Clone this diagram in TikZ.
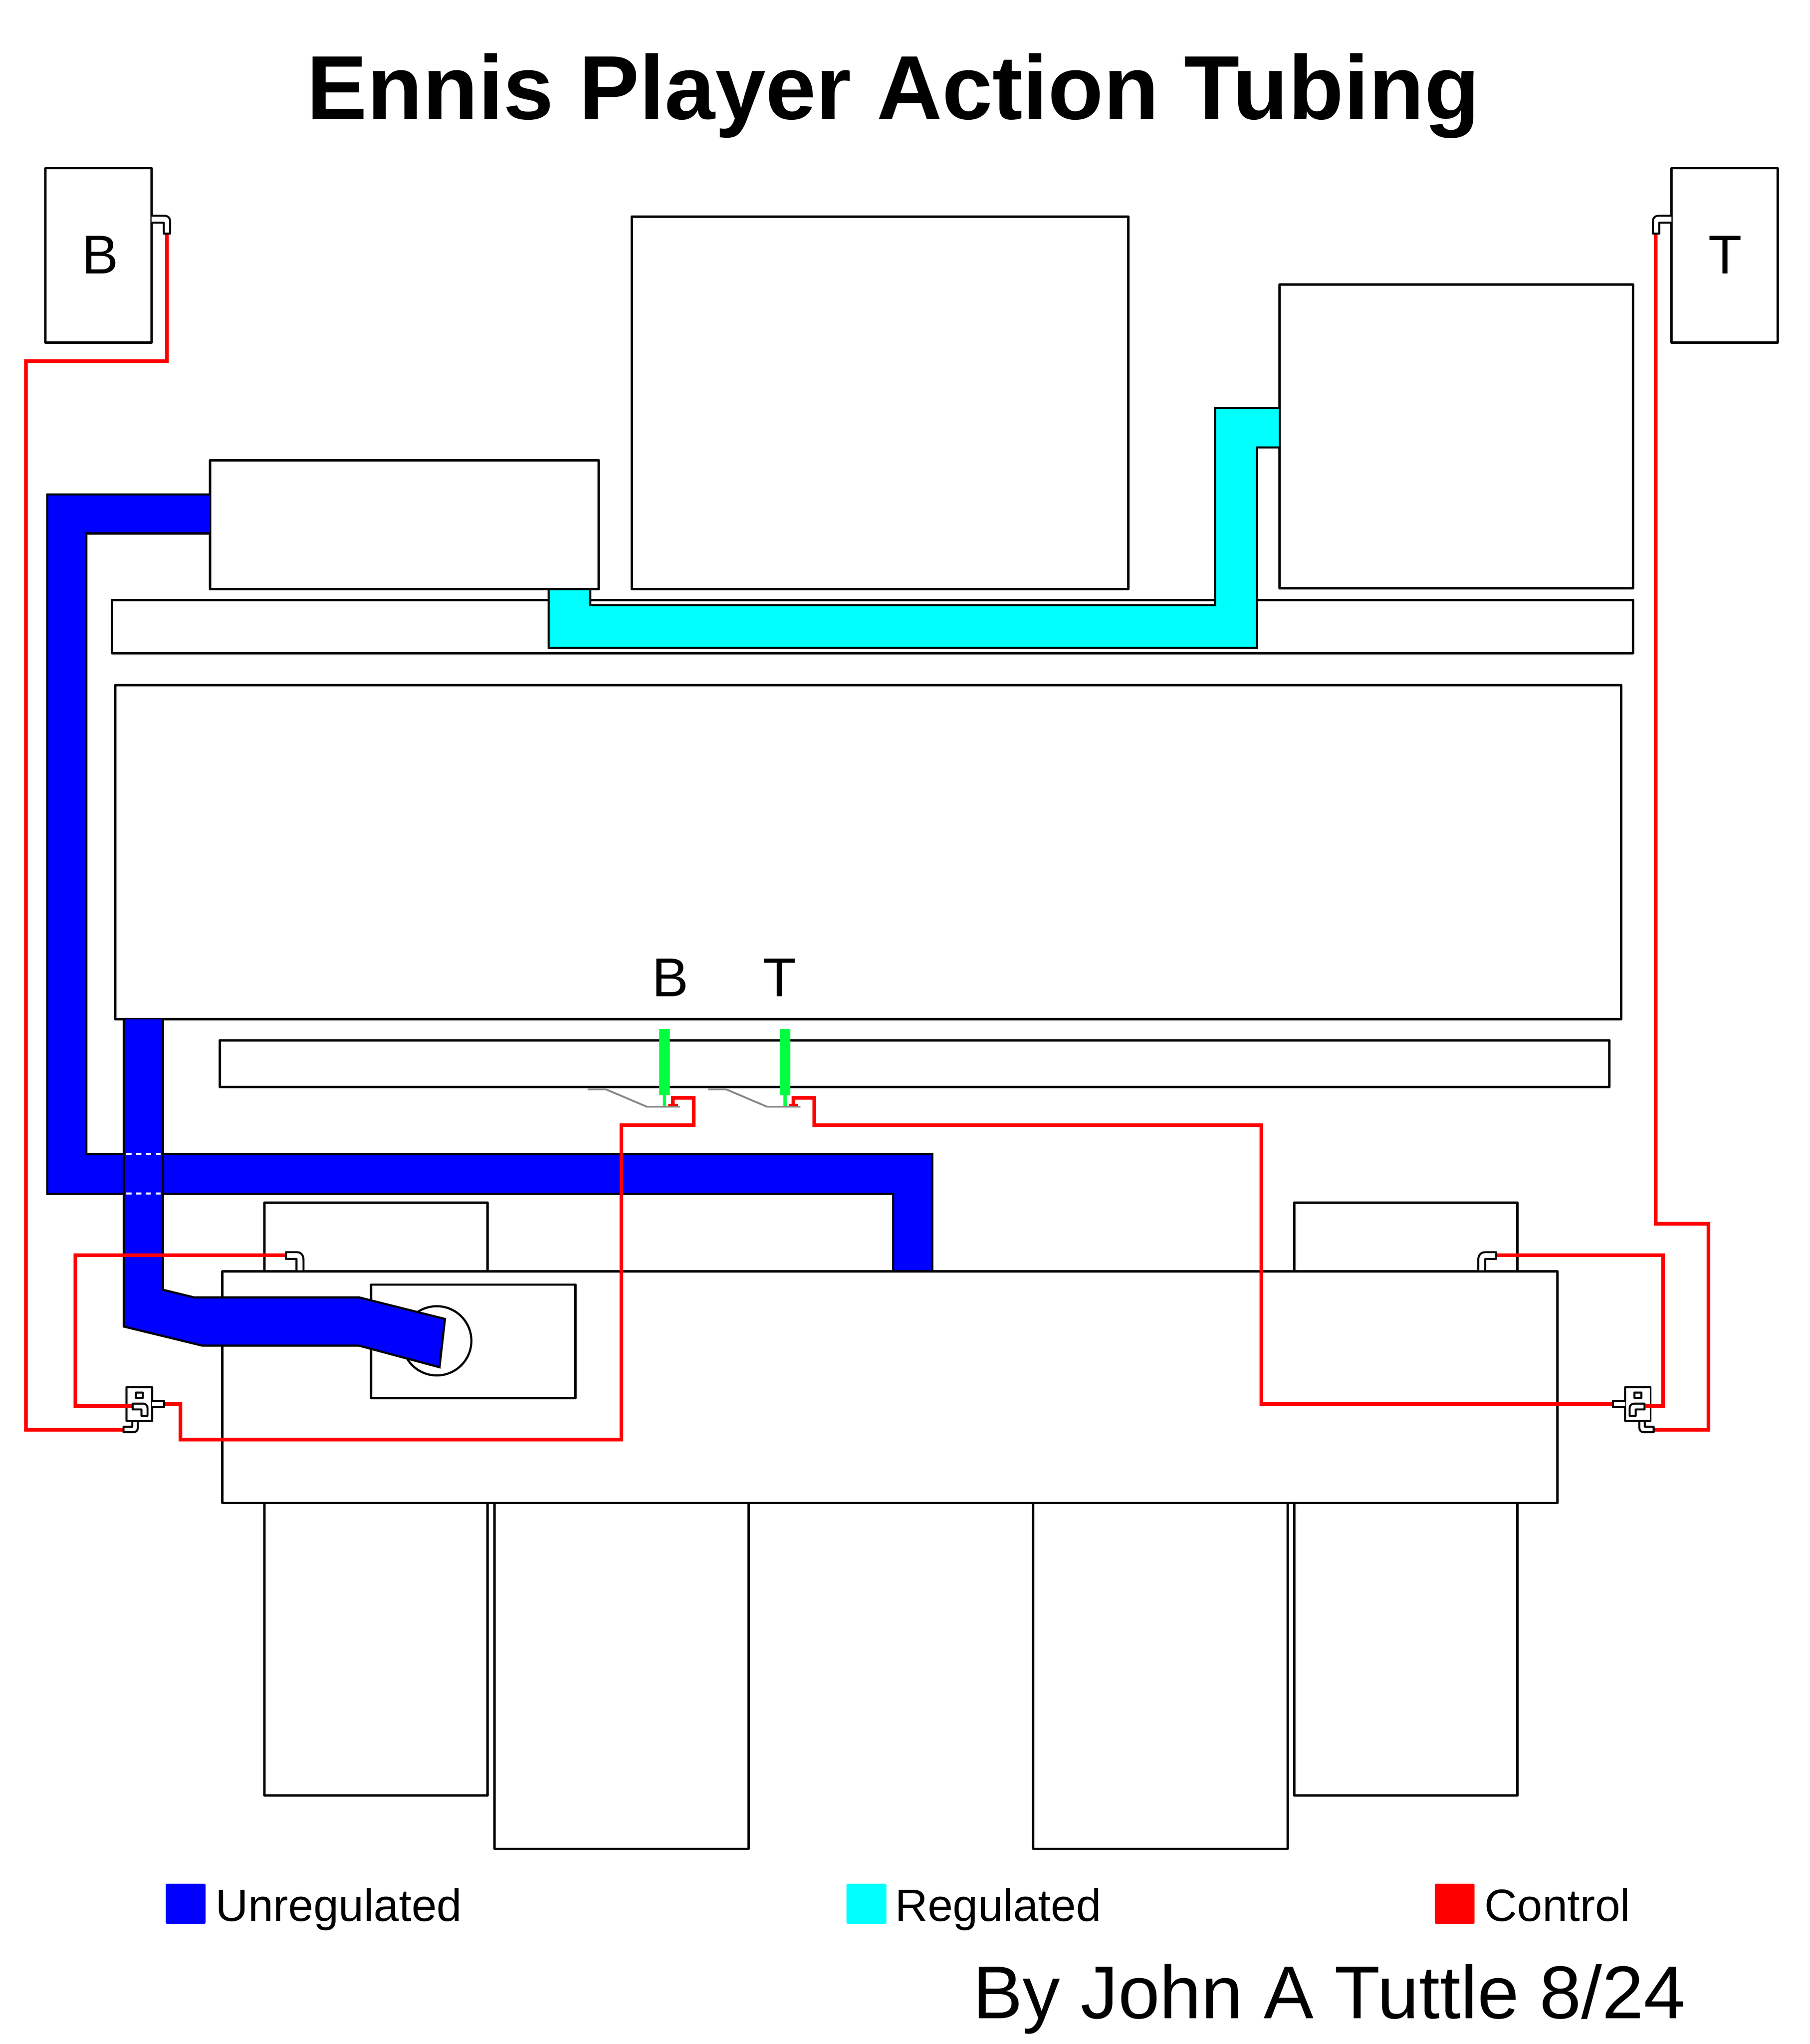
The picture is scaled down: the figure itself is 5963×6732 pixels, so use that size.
\documentclass[tikz,border=0pt]{standalone}
\usepackage{fontspec}
\setmainfont{Liberation Sans}
\definecolor{tubeblue}{RGB}{0,0,255}
\definecolor{tubecyan}{RGB}{0,255,255}
\definecolor{tubered}{RGB}{255,0,0}
\definecolor{pingreen}{RGB}{0,255,64}
\definecolor{valvegray}{RGB}{135,135,135}
\newcommand{\txt}[1]{\fontsize{#1}{#1}\selectfont}
\tikzset{
  outline/.style={draw=black,line width=0.08cm,line join=round},
  thinpart/.style={draw=black,fill=white,line width=0.065cm,line join=round},
  tube/.style={draw=black,line width=0.07cm,line join=miter},
  ctl/.style={draw=tubered,line width=0.12cm,line join=miter,line cap=butt},
  pin/.style={fill=pingreen,draw=none},
  lever/.style={draw=valvegray,line width=0.06cm,line join=miter},
  lab/.style={inner sep=0pt,anchor=base,text=black},
  labw/.style={inner sep=0pt,anchor=base west,text=black},
  swatch/.style={draw=none,rounded corners=0.04cm},
  switchbody/.pic={
    \draw[thinpart] (436,4683) -- (436,4699) -- (407,4699) -- (407,4717) -- (440,4717) .. controls (448,4717) and (454,4711) .. (454,4703) -- (454,4683);
    \draw[thinpart] (417,4569) rectangle (501,4680);
    \draw[thinpart] (447.5,4587) rectangle (470.5,4604);
    \draw[thinpart] (501,4614) -- (541,4614) -- (541,4634) -- (501,4634);
    \draw[thinpart] (437,4623) -- (472,4623) .. controls (480,4623) and (486,4629) .. (486,4637) -- (486,4663) -- (466,4663) -- (466,4642) -- (437,4642) -- cycle;
  },
  elbowtop/.pic={
    \draw[thinpart] (0,0) -- (41,0) .. controls (54,0) and (61,7) .. (61,20) -- (61,59) -- (40,59) -- (40,23) -- (0,23);
  },
}
\begin{document}
\begin{tikzpicture}[x=0.01cm,y=-0.01cm]
\useasboundingbox (0,0) rectangle (5963,6732);
\fill[white] (0,0) rectangle (5963,6732);

% text
\node[lab,font=\bfseries\txt{85}] (title) at (2943,392) {Ennis Player Action Tubing};
\node[lab,font=\txt{51.3}] (blabel) at (330,902) {B};
\node[lab,font=\txt{51.3}] (tlabel) at (5684,902) {T};
\node[lab,font=\txt{51.3}] (bkey) at (2208,3282) {B};
\node[lab,font=\txt{51.3}] (tkey) at (2568,3282) {T};
\node[labw,font=\txt{42.4}] (lega) at (709,6327) {Unregulated};
\node[labw,font=\txt{42.4}] (legb) at (2948,6327) {Regulated};
\node[labw,font=\txt{42.4}] (legc) at (4890,6327) {Control};
\node[labw,font=\txt{70.1}] (credit) at (3204,6648) {By John A Tuttle 8/24};

% legend swatches
\fill[swatch,tubeblue] (546,6204) rectangle (677,6336);
\fill[swatch,tubecyan] (2789,6204) rectangle (2920,6336);
\fill[swatch,tubered] (4727,6204) rectangle (4858,6336);

% boxes
\draw[outline] (150,554) rectangle (499.5,1128);
\draw[outline] (5507,554) rectangle (5857,1128);
\draw[outline] (2081,713) rectangle (3717,1940);
\draw[outline] (4216,937) rectangle (5380,1937);
\draw[outline] (692,1516) rectangle (1973,1940);
\draw[outline] (369,1976) rectangle (5380,2151);
\draw[outline] (380,2256) rectangle (5341,3357);
\draw[outline] (724,3426) rectangle (5302,3580);
\draw[outline] (733,4187) rectangle (5131,4950);
\draw[outline] (871,4187) -- (871,3961) -- (1606.5,3961) -- (1606.5,4187);
\draw[outline] (4264,4187) -- (4264,3961) -- (4999.5,3961) -- (4999.5,4187);
\draw[outline] (871,4950) -- (871,5913) -- (1606.5,5913) -- (1606.5,4950);
\draw[outline] (1629,4950) -- (1629,6089) -- (2467,6089) -- (2467,4950);
\draw[outline] (3404,4950) -- (3404,6089) -- (4242,6089) -- (4242,4950);
\draw[outline] (4264,4950) -- (4264,5913) -- (4999.5,5913) -- (4999.5,4950);
\draw[outline] (1223,4231) rectangle (1896,4604);
\draw[outline,line width=0.07cm] (1439,4416) circle [radius=114];

% regulated
\draw[tube,fill=tubecyan] (1807,1940) -- (1945,1940) -- (1945,1993) -- (4003,1993) -- (4003,1344) -- (4216,1344) -- (4216,1474) -- (4141,1474) -- (4141,2133) -- (1807,2133) -- cycle;

% unregulated
\draw[tube,fill=tubeblue] (692,1628) -- (155,1628) -- (155,3932) -- (2943,3932) -- (2943,4187) -- (3072,4187) -- (3072,3802) -- (284,3802) -- (284,1757) -- (692,1757);
\draw[tube,fill=tubeblue] (408,3357) -- (408,4369) -- (667,4432) -- (1183,4432) -- (1448,4503) -- (1466,4344) -- (1183,4273) -- (640,4273) -- (537,4248) -- (537,3357);
\draw[white,line width=0.06cm,dash pattern=on 0.17cm off 0.152cm] (416,3801) -- (530,3801);
\draw[white,line width=0.06cm,dash pattern=on 0.17cm off 0.152cm] (416,3931) -- (530,3931);

% valves
\draw[lever] (1936,3588) -- (1997,3588) -- (2131,3645) -- (2240,3645);
\draw[lever] (2333,3588) -- (2393,3588) -- (2527,3645) -- (2637,3645);
\fill[pin] (2172,3389) rectangle (2207,3607);
\fill[pin] (2184,3607) rectangle (2195,3643);
\fill[pin] (2569,3389) rectangle (2604,3607);
\fill[pin] (2581,3607) rectangle (2592,3643);
\fill[tubered] (2202,3635) rectangle (2233,3643);
\fill[tubered] (2599,3635) rectangle (2630,3643);

% fittings
\pic (swl) at (0,0) {switchbody};
\pic[xscale=-1] (swr) at (5855,0) {switchbody};
\pic (eb) at (499.5,710.5) {elbowtop};
\pic[xscale=-1] (et) at (5506.5,710.5) {elbowtop};
\draw[thinpart] (942,4124) -- (978,4124) .. controls (992,4124) and (1000,4134) .. (1000,4150) -- (1000,4187) -- (977,4187) -- (977,4146.5) -- (942,4146.5) -- cycle;
\draw[thinpart] (4929,4124) -- (4893,4124) .. controls (4879,4124) and (4870,4134) .. (4870,4150) -- (4870,4187) -- (4893,4187) -- (4893,4146.5) -- (4929,4146.5) -- cycle;

% control lines
\draw[ctl] (550.5,773) -- (550.5,1189) -- (86,1189) -- (86,4709) -- (404,4709);
\draw[ctl] (5455,773) -- (5455,4030) -- (5629,4030) -- (5629,4709) -- (5452,4709);
\draw[ctl] (938,4134.5) -- (249,4134.5) -- (249,4631) -- (434,4631);
\draw[ctl] (4932,4134.5) -- (5479,4134.5) -- (5479,4631) -- (5421,4631);
\draw[ctl] (2217,3637) -- (2217,3616) -- (2286,3616) -- (2286,3706) -- (2047,3706) -- (2047,4741) -- (595,4741) -- (595,4624) -- (544,4624);
\draw[ctl] (2614,3637) -- (2614,3616) -- (2683,3616) -- (2683,3706) -- (4156,3706) -- (4156,4624) -- (5311,4624);
\end{tikzpicture}
\end{document}
